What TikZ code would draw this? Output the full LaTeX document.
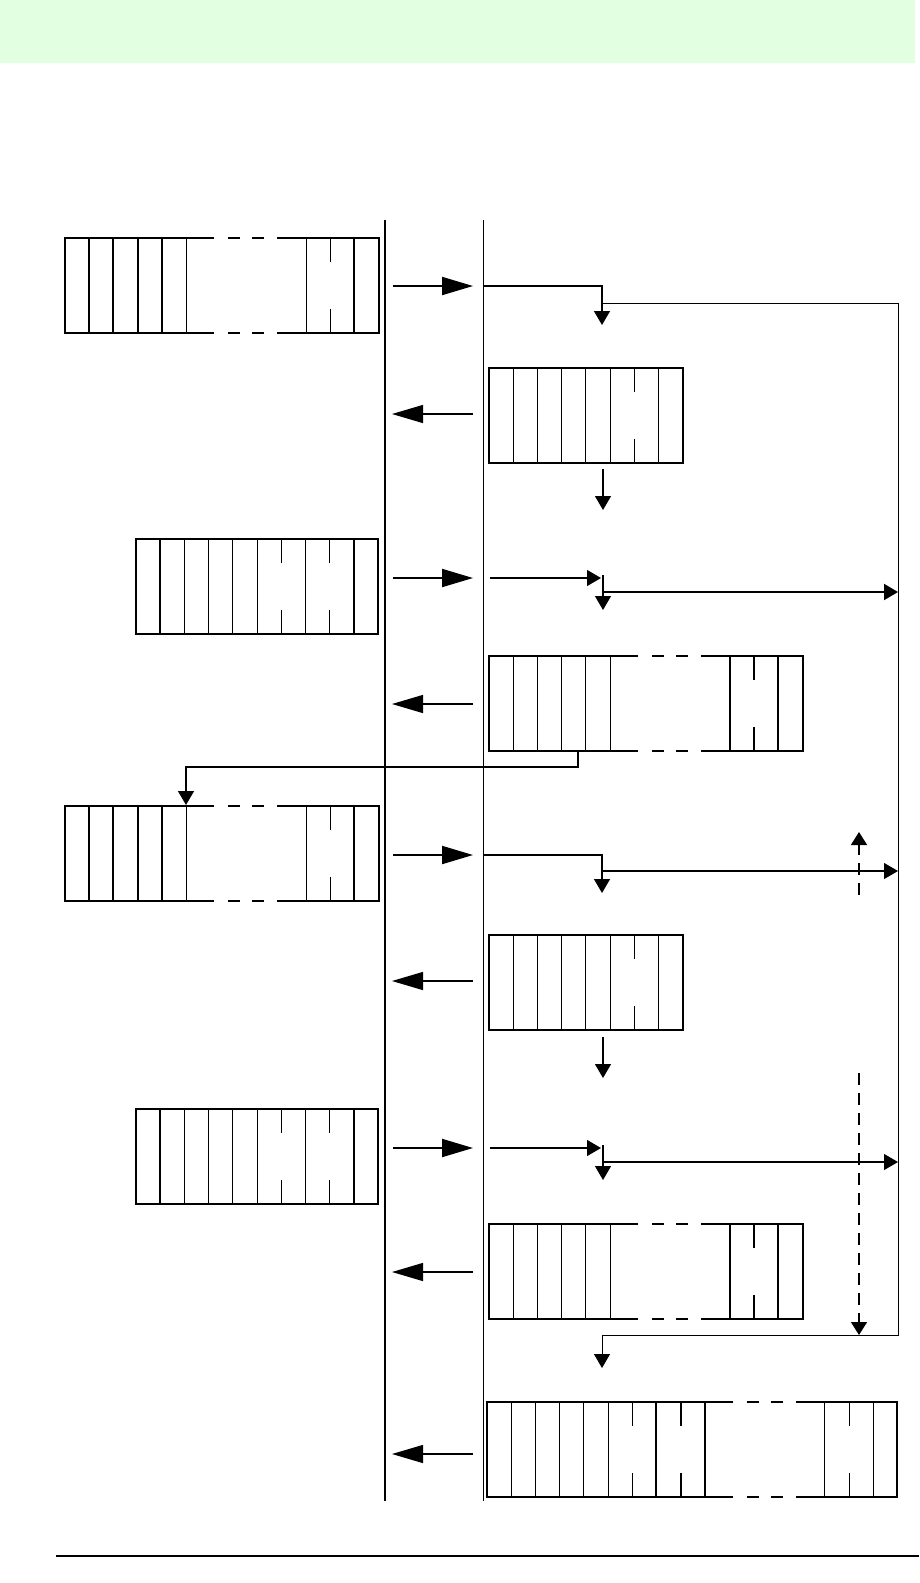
\documentclass[tikz,border=0pt]{standalone}
\usepackage{xcolor}
\definecolor{PaleMint}{HTML}{E2FFE2}
\usepackage{tikz}
\usetikzlibrary{arrows.meta}

% packet box: #1 top-left, #2 name, #3 list of cell/line tokens
\newcommand\pkt[3]{%
  \begin{scope}[shift={#1}]
    \coordinate (#2) at (0,0);
    \draw[frame] (0,0) -- (0,95);
    \xdef\pktx{0}
    \foreach \a/\b in {#3}{
      \if\a g
        \pgfmathsetmacro\pktn{\pktx+120}
        \foreach \yy in {0,95}
          \draw[frame] (\pktx,\yy) -- ++(27,0) (\pktx+43,\yy) -- ++(10,0)
                       (\pktx+67,\yy) -- ++(10,0) (\pktx+92,\yy) -- (\pktn,\yy);
      \else
        \pgfmathsetmacro\pktn{\pktx+24.2}
        \draw[frame] (\pktx,0) -- (\pktn,0) (\pktx,95) -- (\pktn,95);
      \fi
      \if\b t \draw[bar] (\pktn,0) -- (\pktn,95); \fi
      \if\b n \draw[rule] (\pktn,0) -- (\pktn,95); \fi
      \if\b s \draw[rule] (\pktn,0) -- (\pktn,24) (\pktn,71) -- (\pktn,95); \fi
      \if\b S \draw[bar] (\pktn,0) -- (\pktn,24) (\pktn,71) -- (\pktn,95); \fi
      \xdef\pktx{\pktn}
    }
  \end{scope}}

\begin{document}
\begin{tikzpicture}[x=1pt, y=-1pt,
  frame/.style={line width=2pt, line cap=rect},
  bar/.style={line width=2pt},
  rule/.style={line width=1pt},
  req/.style={line width=2pt, -{Triangle[length=31pt,width=18pt]}, shorten <=8pt, shorten >=10pt},
  rsp/.style={line width=1.2pt, -{Triangle[length=31pt,width=18pt]}, shorten <=10pt, shorten >=7pt},
  flow/.style={line width=1.2pt, -{Triangle[length=14pt,width=16pt]}},
  hint/.style={line width=1.5pt, dash pattern=on 12pt off 8pt, -{Triangle[length=13pt,width=16pt]}},
]
\useasboundingbox (0,0) rectangle (919,1583);

%% -- Header band and footer rule ---------------------------------------
\fill[PaleMint] (0,0) rectangle (915,63);
\draw[line width=1.2pt] (56,1556) -- (919,1556);

%% -- Lifelines ----------------------------------------------------------
\coordinate (Ltop) at (385,220); \coordinate (Lbot) at (385,1501);
\coordinate (Rtop) at (483,220); \coordinate (Rbot) at (483,1501);
\draw[line width=2pt] (Ltop) -- (Lbot);
\draw[line width=1pt] (Rtop) -- (Rbot);

\foreach \r/\y in {1/286, 2/414, 3/578, 4/704, 5/855, 6/981, 7/1148, 8/1272, 9/1454} {
  \coordinate (L\r) at (385,\y);
  \coordinate (R\r) at (483,\y);
}

%% -- Packets ------------------------------------------------------------
\pkt{(65,238)}{pA}{c/t,c/t,c/t,c/t,c/n,g/n,c/s,c/t,c/t}
\pkt{(489,368)}{pB}{c/n,c/n,c/n,c/n,c/n,c/s,c/n,c/t}
\pkt{(136,539)}{pC}{c/t,c/n,c/n,c/n,c/n,c/s,c/n,c/s,c/t,c/t}
\pkt{(489,656)}{pD}{c/n,c/n,c/n,c/n,c/n,g/t,c/S,c/t,c/t}
\pkt{(65,806)}{pE}{c/t,c/t,c/t,c/t,c/n,g/n,c/s,c/t,c/t}
\pkt{(489,935)}{pF}{c/n,c/n,c/n,c/n,c/n,c/s,c/n,c/t}
\pkt{(136,1109)}{pG}{c/t,c/n,c/n,c/n,c/n,c/s,c/n,c/s,c/t,c/t}
\pkt{(489,1224)}{pH}{c/n,c/n,c/n,c/n,c/n,g/t,c/S,c/t,c/t}
\pkt{(487,1402)}{pI}{c/n,c/n,c/n,c/n,c/n,c/s,c/t,c/S,c/t,g/n,c/s,c/n,c/t}

%% -- Messages between lifelines ----------------------------------------
\foreach \r in {1,3,5,7} \draw[req] (L\r) -- (R\r);
\foreach \r in {2,4,6,8,9} \draw[rsp] (R\r) -- (L\r);

%% -- Right side flows ---------------------------------------------------
% row 1 and the long loop
\coordinate (c1) at (602,286); \coordinate (d1) at (602,325);
\draw[flow] (R1) -- (c1) -- (d1);
\coordinate (o1) at (602,303); \coordinate (o2) at (898,303);
\coordinate (o3) at (898,1335); \coordinate (o4) at (602,1335);
\coordinate (o5) at (602,1368);
\draw[flow, line width=1pt] (o1) -- (o2) -- (o3) -- (o4) -- (o5);

% row 2
\coordinate (b2) at (603,469); \coordinate (d2) at (603,510);
\draw[flow] (b2) -- (d2);

% row 3
\coordinate (s3) at (490,578); \coordinate (t3) at (601,578);
\coordinate (v3) at (603,575); \coordinate (d3) at (603,610);
\coordinate (h3) at (603,592); \coordinate (e3) at (898,592);
\draw[flow] (s3) -- (t3);
\draw[flow] (v3) -- (d3);
\draw[flow, line width=2pt] (h3) -- (e3);

% row 4: back to the left packet
\coordinate (p4) at (578,752); \coordinate (k4) at (186,805);
\draw[flow] (p4) -- ++(0,15) -| (k4);

% row 5
\coordinate (c5) at (602,855); \coordinate (d5) at (602,893);
\coordinate (h5) at (602,871); \coordinate (e5) at (898,871);
\coordinate (q5) at (859,895); \coordinate (u5) at (859,832);
\draw[flow] (R5) -- (c5) -- (d5);
\draw[flow] (h5) -- (e5);
\draw[hint] (q5) -- (u5);

% row 6
\coordinate (b6) at (603,1037); \coordinate (d6) at (603,1078);
\draw[flow] (b6) -- (d6);

% row 7
\coordinate (s7) at (490,1148); \coordinate (t7) at (601,1148);
\coordinate (v7) at (603,1145); \coordinate (d7) at (603,1180);
\coordinate (h7) at (603,1162); \coordinate (e7) at (898,1162);
\coordinate (q7) at (859,1073); \coordinate (u7) at (859,1335);
\draw[flow] (s7) -- (t7);
\draw[flow] (v7) -- (d7);
\draw[flow] (h7) -- (e7);
\draw[hint] (q7) -- (u7);

\end{tikzpicture}
\end{document}
